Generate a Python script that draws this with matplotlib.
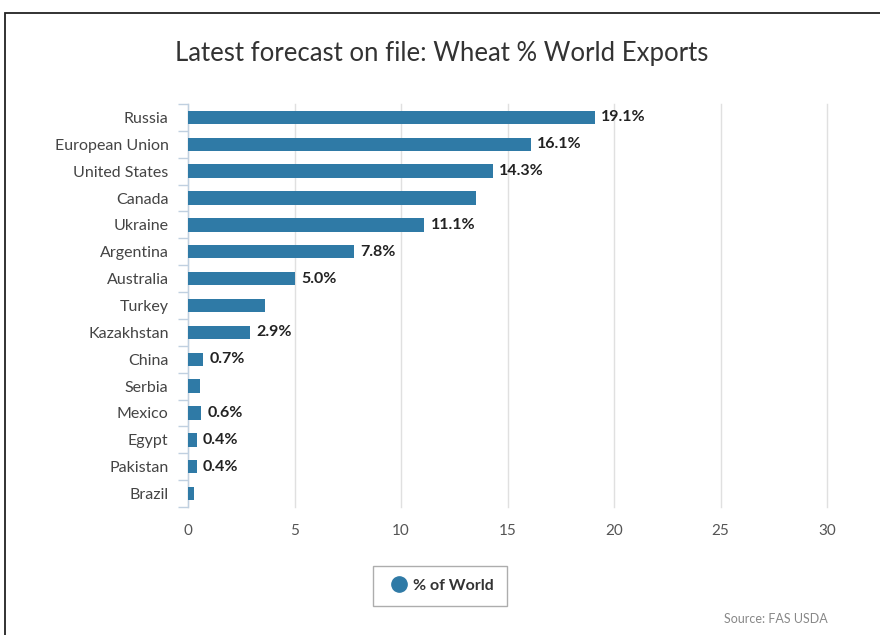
import matplotlib
matplotlib.use("Agg")
import matplotlib.pyplot as plt
from matplotlib.lines import Line2D
from matplotlib.patches import Rectangle

plt.rcParams['font.family'] = ['Lato', 'DejaVu Sans']

countries = ["Russia", "European Union", "United States", "Canada", "Ukraine",
             "Argentina", "Australia", "Turkey", "Kazakhstan", "China", "Serbia",
             "Mexico", "Egypt", "Pakistan", "Brazil"]
values = [19.1, 16.1, 14.3, 13.5, 11.1, 7.8, 5.0, 3.6, 2.9, 0.7, 0.55, 0.6, 0.4, 0.4, 0.3]
labels = ["19.1%", "16.1%", "14.3%", "", "11.1%", "7.8%", "5.0%", "", "2.9%",
          "0.7%", "", "0.6%", "0.4%", "0.4%", ""]
xticks = [0, 5, 10, 15, 20, 25, 30]

W, H = 880, 635
fig = plt.figure(figsize=(W / 100, H / 100), dpi=100)

x0, x1 = 188, 827
y_top, y_bot = 104, 507
ax = fig.add_axes([x0 / W, 1 - y_bot / H, (x1 - x0) / W, (y_bot - y_top) / H])

color = "#2f7aa6"
ypos = list(range(len(countries)))
ax.barh(ypos, values, height=0.5, color=color, zorder=3)
ax.set_ylim(len(countries) - 0.5, -0.5)
ax.set_xlim(0, 30)

for y, v, lab in zip(ypos, values, labels):
    if lab:
        ax.text(v + 0.3, y, lab, va="center", ha="left", fontsize=11.5,
                fontweight="bold", color="#222222", zorder=4)

ax.set_yticks(ypos)
ax.set_yticklabels(countries, fontsize=11.5, color="#444444")
ax.tick_params(axis="y", length=0, pad=14)
ax.set_yticks([i - 0.5 for i in range(len(countries) + 1)], minor=True)
ax.tick_params(axis="y", which="minor", length=7.5, color="#c0d0e0", width=1)

ax.set_xticks(xticks)
ax.set_xticklabels([str(t) for t in xticks], fontsize=11, color="#555555")
ax.tick_params(axis="x", length=0, pad=12)
ax.grid(axis="x", color="#e0e0e0", linewidth=1, zorder=0)
for gl in ax.get_xgridlines():
    gl.set_clip_on(False)

for s in ["top", "right", "bottom"]:
    ax.spines[s].set_visible(False)
ax.spines["left"].set_color("#c0d0e0")
ax.spines["left"].set_linewidth(1)

fig.text(442 / W, 1 - 53 / H, "Latest forecast on file: Wheat % World Exports",
         ha="center", va="center", fontsize=18.5, color="#333333")

handle = Line2D([], [], marker="o", linestyle="none", markersize=11,
                markerfacecolor=color, markeredgecolor=color)
leg = fig.legend([handle], ["% of World"], loc="center",
                 bbox_to_anchor=(440 / W, 1 - 586 / H), frameon=True,
                 prop={"size": 11.5, "weight": "bold"}, handletextpad=0.1,
                 handlelength=1.6, borderpad=0.8, fancybox=False, edgecolor="#999999")
for t in leg.get_texts():
    t.set_color("#333333")

fig.text(828 / W, 1 - 619 / H, "Source: FAS USDA", ha="right", va="center",
         fontsize=9, color="#888888")

fig.add_artist(Rectangle((5 / W, -0.05), 1.1, 1 - 13 / H + 0.05,
                         transform=fig.transFigure, fill=False,
                         edgecolor="#222222", linewidth=1.3))

fig.savefig("out.png", dpi=100, facecolor="white")
